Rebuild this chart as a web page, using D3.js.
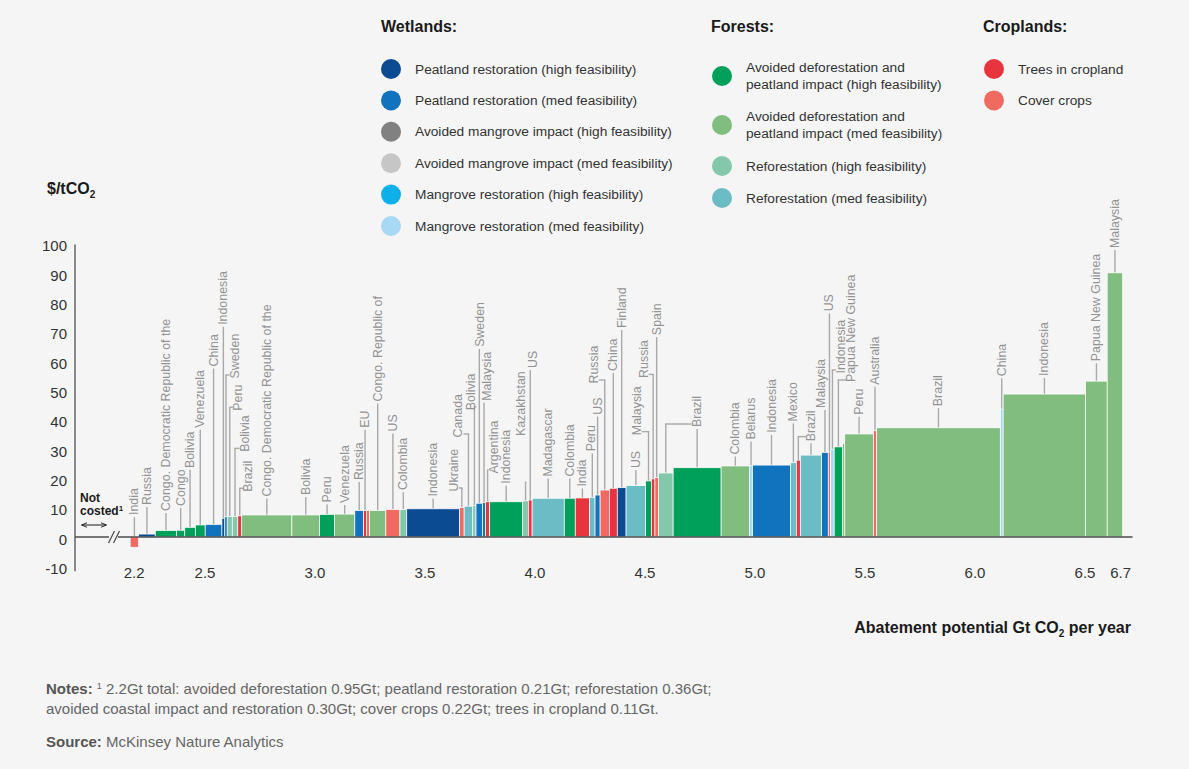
<!DOCTYPE html>
<html>
<head>
<meta charset="utf-8">
<script src="https://cdn.jsdelivr.net/npm/d3@7"></script>
<style>
  html, body { margin: 0; padding: 0; background: #f5f5f5; }
  svg { display: block; font-family: "Liberation Sans", Arial, Helvetica, sans-serif; }
</style>
</head>
<body>
<svg id="chart" width="1189" height="769"></svg>
<script>
// ---- Abatement cost curve data (one bar per country and measure) ----
const countries = ["India","Russia","Congo. Democratic Republic of the","Congo","Bolivia","Venezuela","China","Indonesia","Sweden","Peru",
  "Bolivia","Brazil","Congo. Democratic Republic of the","Bolivia","Peru","Venezuela","Russia","EU","EU","Congo. Republic of",
  "US","Colombia","Indonesia","Ukraine","Canada","Bolivia","Sweden","Malaysia","Argentina","Indonesia",
  "Kazakhstan","US","Madagascar","Colombia","India","Peru","US","Russia","China","Finland",
  "US","Malaysia","Russia","Spain","Brazil","Brazil","Colombia","Belarus","Indonesia","Mexico",
  "Brazil","Brazil","Malaysia","US","Indonesia","Papua New Guinea","Papua New Guinea","Peru","Australia","Brazil",
  "China","Indonesia","Papua New Guinea","Malaysia"];

const measures = ["cover","peatHigh","defHigh","defHigh","defHigh","defHigh","peatMed","peatHigh","peatMed","refHigh",
  "refHigh","trees","defMed","defMed","defHigh","defMed","peatMed","trees","cover","defMed",
  "cover","refHigh","peatHigh","cover","refMed","refHigh","peatMed","peatMed","trees","defHigh",
  "refHigh","trees","refMed","defHigh","trees","refMed","peatMed","cover","trees","peatHigh",
  "refMed","defHigh","trees","cover","refHigh","defHigh","defMed","mangRestMed","peatMed","refMed",
  "trees","refMed","peatMed","cover","mangRestMed","defHigh","defMed","defMed","cover","defMed",
  "mangRestMed","defMed","defMed","defMed"];

// abatement potential of each bar, Gt CO2 per year
const potentials = [0.038,0.076,0.097,0.037,0.048,0.045,0.076,0.013,0.011,0.023,
  0.025,0.018,0.228,0.126,0.068,0.092,0.040,0.013,0.014,0.074,
  0.064,0.031,0.240,0.021,0.039,0.015,0.030,0.013,0.019,0.150,
  0.026,0.017,0.146,0.050,0.065,0.025,0.023,0.042,0.036,0.040,
  0.089,0.026,0.016,0.016,0.067,0.218,0.129,0.014,0.172,0.027,
  0.018,0.097,0.030,0.011,0.016,0.038,0.010,0.130,0.015,0.562,
  0.013,0.375,0.098,0.070];

// cost, $/tCO2
const costs = [-3.5,1.0,2.2,2.3,3.3,4.1,4.3,6.4,6.9,7.0,
  7.0,7.2,7.5,7.5,7.7,7.8,9.0,9.0,9.0,9.0,
  9.4,9.4,9.6,10.1,10.5,10.8,11.5,11.7,12.0,12.0,
  12.3,12.6,13.2,13.2,13.3,13.5,14.3,16.0,16.6,16.8,
  17.5,19.1,19.8,20.2,21.8,23.6,24.2,24.4,24.5,25.3,
  26.2,27.9,28.8,29.0,29.9,30.7,31.9,35.1,36.2,37.2,
  43.6,48.7,53.1,90];

// cumulative potential (Gt) where the costed curve begins; left of it is not costed
const curveStart = 2.16;

const yTicks = [-10,0,10,20,30,40,50,60,70,80,90,100];
const xTicks = [2.2,2.5,3.0,3.5,4.0,4.5,5.0,5.5,6.0,6.5,6.7];

// legend groups
const wetlandKeys = ["peatHigh","peatMed","mangImpHigh","mangImpMed","mangRestHigh","mangRestMed"];
const wetlandNames = ["Peatland restoration (high feasibility)","Peatland restoration (med feasibility)",
  "Avoided mangrove impact (high feasibility)","Avoided mangrove impact (med feasibility)",
  "Mangrove restoration (high feasibility)","Mangrove restoration (med feasibility)"];
const forestKeys = ["defHigh","defMed","refHigh","refMed"];
const forestNames = [["Avoided deforestation and","peatland impact (high feasibility)"],
  ["Avoided deforestation and","peatland impact (med feasibility)"],
  ["Reforestation (high feasibility)"],["Reforestation (med feasibility)"]];
const croplandKeys = ["trees","cover"];
const croplandNames = ["Trees in cropland","Cover crops"];

const palette = {
  peatHigh: "#0b4b92", peatMed: "#1172bd", mangImpHigh: "#818181", mangImpMed: "#c6c6c6",
  mangRestHigh: "#0eb0ea", mangRestMed: "#a7d9f4", defHigh: "#00a05a", defMed: "#80bd7e",
  refHigh: "#84c8ac", refMed: "#6bbcc4", trees: "#e8343f", cover: "#ef6b62"
};

// leader layout per bar: [line top ($/t), text shift (px), elbow?, text start ($/t) or null, draw text?]
const leaderLayout = [
  [6.8,0,0],[10.2,0,0],[8.2,0,0],[9.9,0,0],[22.8,0,0],[36.5,0,0],[57.4,0,0],[71.6,0,0],[55.2,8.5,1],[44.2,8,1],
  [30.2,9.5,1],[16.6,8.5,1],[13.1,0,0],[13.6,0,0],[11.1,0,0],[10.9,0,0],[18.7,0,0],[36.5,0,0],null,[45.5,0,0],
  [35.3,0,0],[15.3,0,0],[13.1,0,0],[16.7,-8,1],[35.1,-10,1],[44.4,-3,1],[64.1,1,0],[45.7,3,0],[22.8,6,1],[17.5,0,0],
  [18.8,-5,1,33.7],[56.9,3,0],[19.9,0,0],[19.9,0,0],[16.5,0,0],[28.5,-1.5,0],[41,0,0],[53.5,-11,1],[55.9,0,0],[70.5,0,0],
  [22.8,0,0],[35.9,-12,1],[55.4,-9.5,1],[68.1,0,0],[38.5,30.9,1,null,false],[36.8,0,0],[27.4,0,0],[32.5,0,0],[34.8,0,0],[38.7,0,0],
  [34.2,12.7,1,null,false],[31.9,0,0],[43.3,-3.5,0],[76.2,0,0],[56.9,8.5,1],[53.5,13,1,52.1],null,[41,0,0],[51.2,0,0],[43.9,0,0],
  [54.1,0,0],[54.2,0,0],[59.2,0,0],[97.8,0,0]
];

// ---- scales ----
const x = d3.scaleLinear().domain([3.0, 6.5]).range([315, 1085]);
const y = d3.scaleLinear().domain([0, 100]).range([537, 243.5]);

const svg = d3.select("#chart");
svg.append("rect").attr("width", 1189).attr("height", 769).attr("fill", "#f5f5f5");

// ---- bars ----
let acc = curveStart;
const bars = countries.map((c, i) => {
  const b = { country: c, measure: measures[i], x0: acc, x1: acc + potentials[i], cost: costs[i], layout: leaderLayout[i] };
  acc += potentials[i];
  return b;
});
const curveEnd = acc;

// leaders and labels (drawn first so bars sit on top)
const lab = svg.append("g");
bars.forEach(b => {
  if (!b.layout) return;
  const [level, dx, elbow, textLevel, showText] = b.layout;
  const lx = (x(b.x0) + x(b.x1)) / 2;
  const top = y(Math.max(b.cost, 0));
  const ly = y(level);
  const tx = lx + dx;
  lab.append("line").attr("x1", lx).attr("x2", lx).attr("y1", top).attr("y2", ly)
    .attr("stroke", "#a9a9a9").attr("stroke-width", 1.4);
  let ty;
  if (elbow) {
    const hx = tx - 5 * Math.sign(dx);
    lab.append("line").attr("x1", lx - 0.7 * Math.sign(dx)).attr("x2", hx).attr("y1", ly).attr("y2", ly)
      .attr("stroke", "#a9a9a9").attr("stroke-width", 1.4);
    ty = (textLevel != null) ? y(textLevel) - 2 : ly + 3.5;
  } else {
    ty = (textLevel != null) ? y(textLevel) - 2 : ly - 2;
  }
  if (showText === false) return;
  lab.append("text")
    .attr("transform", `translate(${tx},${ty}) rotate(-90)`)
    .attr("dominant-baseline", "central")
    .attr("font-size", 12.4)
    .attr("fill", "#939393")
    .text(b.country);
});

svg.append("g").selectAll("rect").data(bars).join("rect")
  .attr("x", d => x(d.x0))
  .attr("width", d => x(d.x1) - x(d.x0))
  .attr("y", d => y(Math.max(d.cost, 0)))
  .attr("height", d => Math.abs(y(d.cost) - y(0)))
  .attr("fill", d => palette[d.measure])
  .attr("stroke", "#ffffff")
  .attr("stroke-width", 0.7);

// ---- axes ----
const axisX = 75;
const yAxis = svg.append("g").attr("transform", `translate(${axisX},0)`)
  .call(d3.axisLeft(y).tickValues(yTicks).tickSize(0).tickPadding(8).tickFormat(d => String(d)));
yAxis.select(".domain").remove();
yAxis.selectAll("text").attr("font-size", 15).attr("fill", "#333").attr("font-family", "Liberation Sans, Arial, sans-serif")
  .attr("dy", "0.62em").attr("transform", "translate(0,-2)");
svg.append("line").attr("x1", axisX).attr("x2", axisX).attr("y1", y(100) + 1).attr("y2", y(-10) + 5)
  .attr("stroke", "#4d4d4d").attr("stroke-width", 1.3);

// horizontal zero line with a break before the costed curve
svg.append("line").attr("x1", axisX).attr("x2", 109).attr("y1", y(0)).attr("y2", y(0))
  .attr("stroke", "#4d4d4d").attr("stroke-width", 1.3);
svg.append("line").attr("x1", 118).attr("x2", x(curveEnd) + 10).attr("y1", y(0)).attr("y2", y(0))
  .attr("stroke", "#4d4d4d").attr("stroke-width", 1.3);
[111.5, 116.5].forEach(bx => {
  svg.append("line").attr("x1", bx - 3).attr("x2", bx + 3).attr("y1", y(0) + 6).attr("y2", y(0) - 6)
    .attr("stroke", "#4d4d4d").attr("stroke-width", 1.3);
});

// x tick labels; the end labels mark where the curve starts and stops
svg.append("g").selectAll("text").data(xTicks).join("text")
  .attr("x", d => d === 2.2 ? x(curveStart) + 4 : d === 6.7 ? x(curveEnd) - 2 : x(d))
  .attr("y", 578)
  .attr("text-anchor", "middle")
  .attr("font-size", 15)
  .attr("fill", "#333")
  .text(d => d.toFixed(1));

// not costed marker
const nc = svg.append("g").attr("font-size", 12).attr("font-weight", "bold").attr("fill", "#1a1a1a");
nc.append("text").attr("x", 80).attr("y", 502).text("Not");
nc.append("text").attr("x", 80).attr("y", 515).text("costed").append("tspan")
  .attr("font-size", 8).attr("dy", -4).text("1");
svg.append("defs").html(
  '<marker id="ah" viewBox="0 0 10 10" refX="9" refY="5" markerWidth="6" markerHeight="6" orient="auto-start-reverse">' +
  '<path d="M0,1 L10,5 L0,9" fill="none" stroke="#1a1a1a" stroke-width="1.5"/></marker>');
svg.append("line").attr("x1", 82).attr("x2", 106).attr("y1", 525).attr("y2", 525)
  .attr("stroke", "#1a1a1a").attr("stroke-width", 1)
  .attr("marker-start", "url(#ah)").attr("marker-end", "url(#ah)");

// axis titles
const yt = svg.append("text").attr("x", 47).attr("y", 194).attr("font-size", 16).attr("font-weight", "bold").attr("fill", "#1a1a1a");
yt.append("tspan").text("$/tCO");
yt.append("tspan").attr("font-size", 10).attr("dy", 4).text("2");

const xt = svg.append("text").attr("x", 1131).attr("y", 633).attr("text-anchor", "end")
  .attr("font-size", 16).attr("font-weight", "bold").attr("fill", "#1a1a1a");
xt.append("tspan").text("Abatement potential Gt CO");
xt.append("tspan").attr("font-size", 10).attr("dy", 4).text("2");
xt.append("tspan").attr("dy", -4).text(" per year");

// ---- legend ----
const legend = svg.append("g");
function heading(tx, text) {
  legend.append("text").attr("x", tx).attr("y", 32).attr("font-size", 16).attr("font-weight", "bold")
    .attr("fill", "#1a1a1a").text(text);
}
function item(cx, cy, key, lines) {
  legend.append("circle").attr("cx", cx).attr("cy", cy).attr("r", 10).attr("fill", palette[key]);
  const t = legend.append("text").attr("x", cx + 24).attr("font-size", 13.7).attr("fill", "#333");
  const off = (lines.length - 1) * 8.5;
  lines.forEach((l, k) => {
    t.append("tspan").attr("x", cx + 24).attr("y", cy - off + k * 17).attr("dominant-baseline", "central").text(l);
  });
}
heading(381, "Wetlands:");
wetlandKeys.forEach((k, i) => item(391, 69 + i * 31.4, k, [wetlandNames[i]]));
heading(711, "Forests:");
const forestRows = [76, 125, 166, 198];
forestKeys.forEach((k, i) => item(722, forestRows[i], k, forestNames[i]));
heading(983, "Croplands:");
croplandKeys.forEach((k, i) => item(994, 69 + i * 31.4, k, [croplandNames[i]]));

// ---- notes ----
const notes = svg.append("g").attr("font-size", 15).attr("fill", "#666");
const n1 = notes.append("text").attr("x", 46).attr("y", 694);
n1.append("tspan").attr("font-weight", "bold").attr("fill", "#555").text("Notes: ");
n1.append("tspan").attr("font-size", 9).attr("dy", -5).text("1");
n1.append("tspan").attr("dy", 5).text(" 2.2Gt total: avoided deforestation 0.95Gt; peatland restoration 0.21Gt; reforestation 0.36Gt;");
notes.append("text").attr("x", 46).attr("y", 714)
  .text("avoided coastal impact and restoration 0.30Gt; cover crops 0.22Gt; trees in cropland 0.11Gt.");
const src = notes.append("text").attr("x", 46).attr("y", 747);
src.append("tspan").attr("font-weight", "bold").attr("fill", "#555").text("Source: ");
src.append("tspan").text("McKinsey Nature Analytics");
</script>
</body>
</html>
